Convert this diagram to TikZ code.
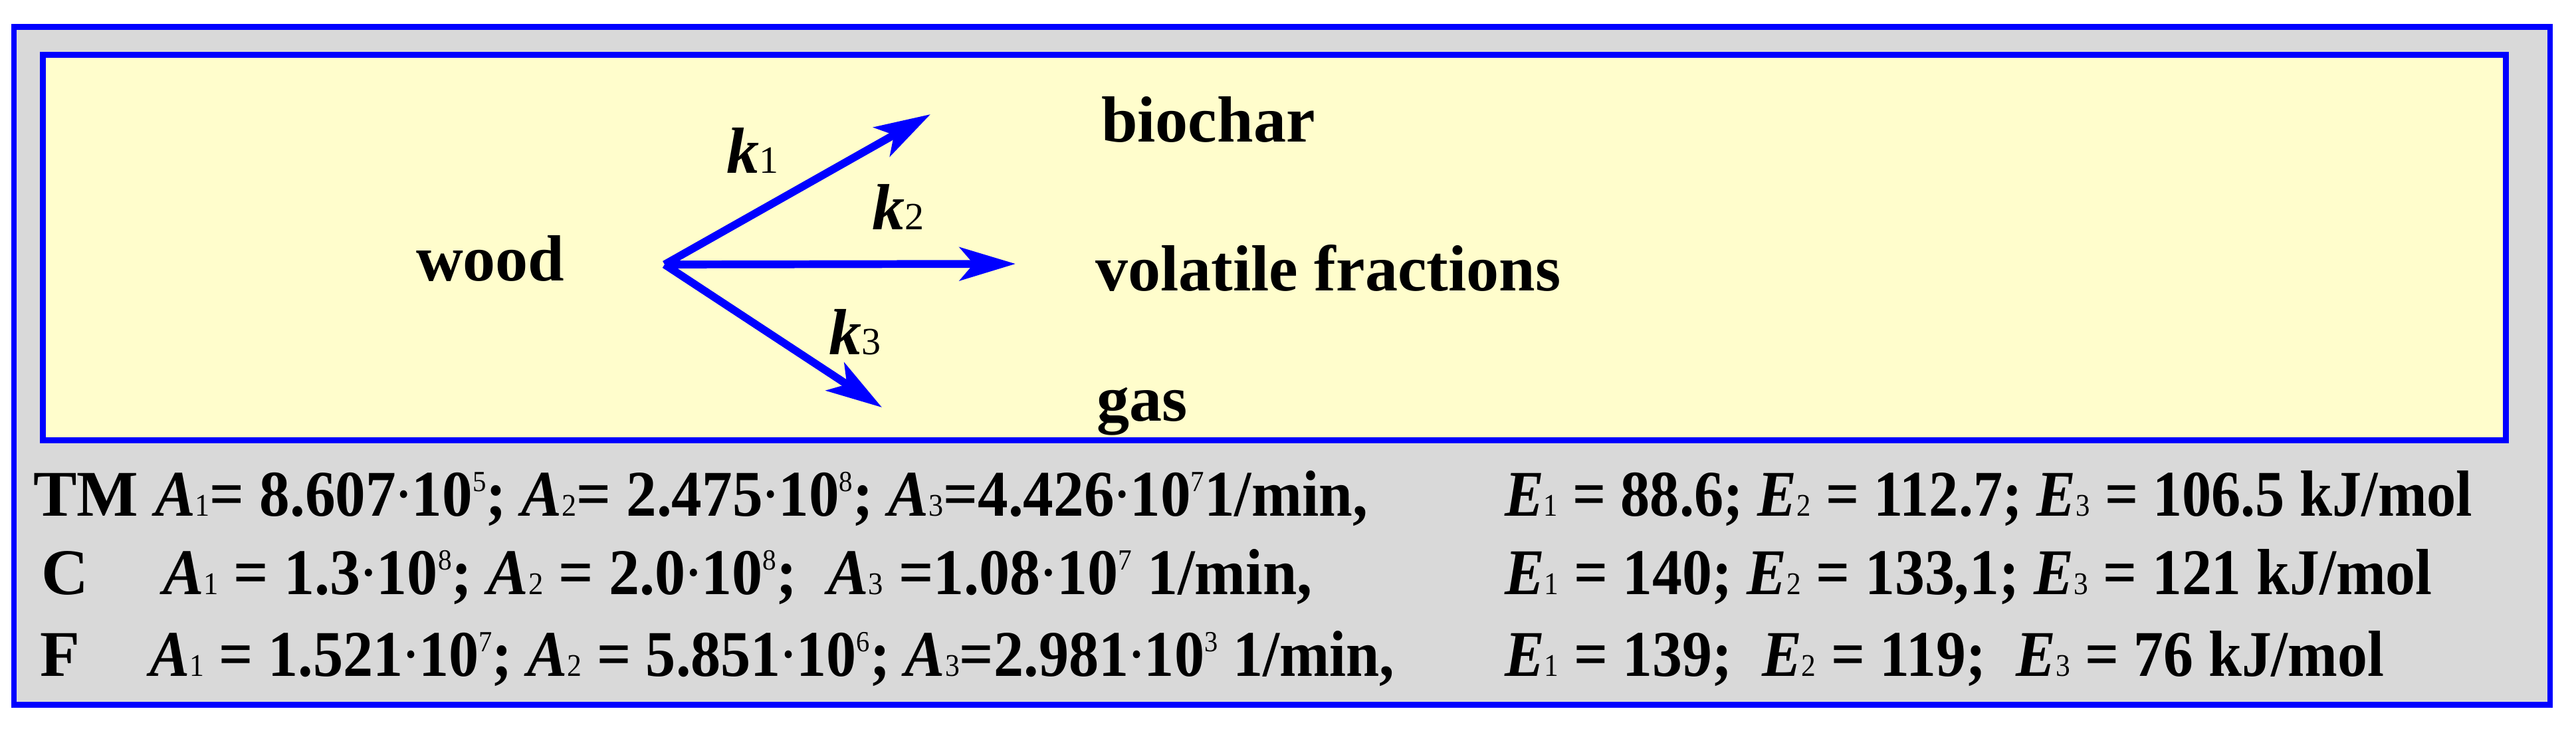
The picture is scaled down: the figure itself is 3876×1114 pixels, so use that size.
\documentclass[tikz,border=0pt]{standalone}
\usepackage{fontspec}
\setmainfont{Liberation Serif}
\usetikzlibrary{arrows.meta}
\definecolor{frameblue}{RGB}{0,0,255}
\definecolor{outergray}{RGB}{217,217,217}
\definecolor{inneryellow}{RGB}{255,253,204}
\newcommand\myk[1]{\textit{k}{\fontsize{16.5pt}{17pt}\selectfont\mdseries #1}}
\newcommand\myA[1]{\textit{A}{\fontsize{13.5pt}{14pt}\selectfont\mdseries #1}}
\newcommand\myE[1]{\textit{E}{\fontsize{13.5pt}{14pt}\selectfont\mdseries #1}}
\newcommand\mysup[1]{\raisebox{10.5pt}{\fontsize{12.5pt}{13pt}\selectfont\mdseries #1}}
\newcommand\mydot{{\mdseries\kern-1pt·\kern-1pt}}
\newcommand\narrow[2]{\scalebox{#1}[1]{#2}}
\begin{document}
\begin{tikzpicture}[x=0.01cm,y=-0.01cm,
  txt/.style={inner sep=0pt, outer sep=0pt, anchor=base west, font=\fontsize{27.9pt}{30pt}\selectfont\bfseries},
  rxn/.style={draw=frameblue, line width=0.117cm, -{Stealth[length=0.84cm,width=0.5cm,inset=0.21cm]}},
  frame/.style={draw=frameblue, rectangle, inner sep=0pt, outer sep=0pt}
]
\useasboundingbox (0,0) rectangle (3876,1114);
\node[frame, fill=outergray, line width=0.085cm, minimum width=38.14cm, minimum height=10.19cm] (outer) at (1929,550.5) {};
\node[frame, fill=inneryellow, line width=0.09cm, minimum width=37.04cm, minimum height=5.795cm] (inner) at (1917.5,372.25) {};

\node[txt] (wood) at (626,422) {wood};
\node[txt] (biochar) at (1657,213) {biochar};
\node[txt] (volatile) at (1648,437) {volatile fractions};
\node[txt] (gas) at (1650,633) {gas};

\coordinate (o) at (1000,398);
\coordinate (t1) at (1400,172);
\coordinate (t2) at (1528,397);
\coordinate (t3) at (1327,613);
\draw[rxn] (o) -- (t1);
\draw[rxn] (o) -- (t2);
\draw[rxn] (o) -- (t3);

\node[txt] (k1) at (1093,260) {\myk{1}};
\node[txt] (k2) at (1312,345) {\myk{2}};
\node[txt] (k3) at (1247,533) {\myk{3}};

\node[txt] (tm) at (50,776) {TM};
\node[txt] (tmA) at (233,776) {\narrow{0.93}{\myA{1}= 8.607\mydot10\mysup{5}; \myA{2}= 2.475\mydot10\mysup{8}; \myA{3}=4.426\mydot10\mysup{7}1/min,}};
\node[txt] (tmE) at (2264,776) {\narrow{0.9}{\myE{1} = 88.6; \myE{2} = 112.7; \myE{3} = 106.5 kJ/mol}};
\node[txt] (c) at (62,894) {C};
\node[txt] (cA) at (245,894) {\narrow{0.94}{\myA{1} = 1.3\mydot10\mysup{8}; \myA{2} = 2.0\mydot10\mysup{8};\ \ \myA{3} =1.08\mydot10\mysup{7} 1/min,}};
\node[txt] (cE) at (2264,894) {\narrow{0.915}{\myE{1} = 140; \myE{2} = 133,1; \myE{3} = 121 kJ/mol}};
\node[txt] (f) at (60,1017) {F};
\node[txt] (fA) at (225,1017) {\narrow{0.92}{\myA{1} = 1.521\mydot10\mysup{7}; \myA{2} = 5.851\mydot10\mysup{6}; \myA{3}=2.981\mydot10\mysup{3} 1/min,}};
\node[txt] (fE) at (2264,1017) {\narrow{0.915}{\myE{1} = 139;\ \ \myE{2} = 119;\ \ \myE{3} = 76 kJ/mol}};
\end{tikzpicture}
\end{document}
